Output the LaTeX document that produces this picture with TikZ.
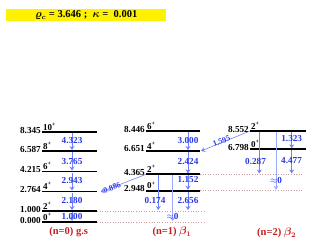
\documentclass[tikz,border=0pt]{standalone}
\usepackage{fontspec}
\setmainfont{Liberation Serif}
\usepackage{amsmath,bm}
\usetikzlibrary{arrows.meta}
\definecolor{arr}{RGB}{110,130,255}
\definecolor{lab}{RGB}{40,55,230}
\definecolor{redl}{RGB}{195,30,30}
\definecolor{dotc}{RGB}{200,160,160}
\begin{document}
\begin{tikzpicture}[x=1pt,y=-1pt,
  lev/.style={line width=1.8pt},
  tr/.style={arr, line width=0.6pt, -{Stealth[length=4pt,width=5pt]}},
  trz/.style={arr!70, line width=0.6pt, -{Stealth[length=4pt,width=5pt]}},
  en/.style={anchor=east, inner sep=0.5pt, font=\fontsize{9.2}{10}\selectfont\bfseries},
  sp/.style={anchor=south west, inner sep=0.5pt, font=\fontsize{9}{10}\selectfont\bfseries},
  tl/.style={lab, inner sep=0.5pt, font=\fontsize{9.2}{10}\selectfont\bfseries},
  dl/.style={dotc, dotted, line width=0.6pt},
  ttl/.style={redl, font=\fontsize{10.5}{12}\selectfont\bfseries\boldmath}
]
\useasboundingbox (0,0) rectangle (312,250);
% title
\node[fill=yellow, minimum width=160pt, minimum height=12pt, inner sep=0pt, anchor=north west,
  font=\fontsize{10.5}{11}\selectfont\bfseries\boldmath] (title) at (6,9)
  {$\varrho_c$ = 3.646 ;\ \ $\kappa$ =\ \ 0.001};

% ---------- ground band ----------
\foreach \n/\y/\e/\s in {g10/132/8.345/10, g8/151/6.587/8, g6/171.5/4.215/6, g4/191.5/2.764/4, g2/211/1.000/2, g0/222/0.000/0}{
  \coordinate (\n L) at (42,\y);
  \coordinate (\n R) at (97,\y);
  \draw[lev] (\n L) -- (\n R);
  \node[en] (\n e) at (41.5,\y-2) {\e};
  \node[sp] (\n s) at (42.5,\y-1) {\s\textsuperscript{+}};
}
% ---------- beta1 band ----------
\foreach \n/\y/\e/\s in {b6/131/8.446/6, b4/151/6.651/4, b2/174.3/4.365/2, b0/190.7/2.948/0}{
  \coordinate (\n L) at (146,\y);
  \coordinate (\n R) at (200,\y);
  \draw[lev] (\n L) -- (\n R);
  \node[en] (\n e) at (145.5,\y-2) {\e};
  \node[sp] (\n s) at (146.5,\y-1) {\s\textsuperscript{+}};
}
% ---------- beta2 band ----------
\foreach \n/\y/\e/\s in {c2/131/8.552/2, c0/149.3/6.798/0}{
  \coordinate (\n L) at (250,\y);
  \coordinate (\n R) at (306,\y);
  \draw[lev] (\n L) -- (\n R);
  \node[en] (\n e) at (249.5,\y-2) {\e};
  \node[sp] (\n s) at (250.5,\y-1) {\s\textsuperscript{+}};
}
% dotted guide lines
\coordinate (d1e) at (205,211);
\coordinate (d0e) at (205,222);
\coordinate (d3e) at (303,174.3);
\coordinate (d4e) at (303,190.7);
\draw[dl] (g2R) -- (d1e);
\draw[dl] (g0R) -- (d0e);
\draw[dl] (b2R) -- (d3e);
\draw[dl] (b0R) -- (d4e);

% ---------- ground band transitions ----------
\foreach \a/\b/\ya/\yb/\v/\yl in {t1/u1/133/150/4.323/141, t2/u2/152/170.5/3.765/161.5, t3/u3/172.5/190.5/2.943/181, t4/u4/192.5/210/2.180/200.5, t5/u5/212/221/1.000/216.5}{
  \coordinate (\a) at (72,\ya);
  \coordinate (\b) at (72,\yb);
  \draw[tr] (\a) -- (\b);
  \node[tl] (\a l) at (72,\yl) {\v};
}
% ---------- beta1 transitions ----------
\foreach \a/\b/\x/\ya/\yb/\v/\xl/\yl in {p1/q1/188/132/150/3.000/188/140, p2/q2/188/152/173.3/2.424/188/162, p3/q3/188/175.3/189.7/1.152/188/180, p4/q4/188/191.7/210/2.656/188/200.5, p5/q5/158.3/175.3/210/0.174/155/200.5}{
  \coordinate (\a) at (\x,\ya);
  \coordinate (\b) at (\x,\yb);
  \draw[tr] (\a) -- (\b);
  \node[tl] (\a l) at (\xl,\yl) {\v};
}
\coordinate (p6) at (172.7,175.3);
\coordinate (q6) at (172.7,221);
\draw[trz] (p6) -- (q6);
\node[tl] (p6l) at (172.5,216) {$\approx$0};
% ---------- beta2 transitions ----------
\foreach \a/\b/\x/\ya/\yb/\v/\xl/\yl in {r1/s1/291.7/132/148.3/1.323/291.7/139, r2/s2/291.7/150.3/173.5/4.477/291.5/161, r3/s3/259.3/132/173.5/0.287/255.5/161}{
  \coordinate (\a) at (\x,\ya);
  \coordinate (\b) at (\x,\yb);
  \draw[tr] (\a) -- (\b);
  \node[tl] (\a l) at (\xl,\yl) {\v};
}
\coordinate (r4) at (276,132);
\coordinate (s4) at (276,189.7);
\draw[trz] (r4) -- (s4);
\node[tl] (r4l) at (276,180.5) {$\approx$0};

% ---------- inter-band transitions ----------
\coordinate (x1) at (100.5,192);
\draw[tr] (b2L) -- (x1);
\node[tl, rotate=21, font=\fontsize{8}{9}\selectfont\bfseries] (x1l) at (112,187.5) {0.886};
\coordinate (x2) at (201,151);
\draw[tr] (c2L) -- (x2);
\node[tl, rotate=22, font=\fontsize{8}{9}\selectfont\bfseries] (x2l) at (221.5,141) {1.595};

% ---------- band titles ----------
\node[ttl] (n0) at (68.7,231.7) {(n=0) g.s};
\node[ttl] (n1) at (172,231.7) {(n=1) $\bm{\beta}_1$};
\node[ttl] (n2) at (276.7,233.3) {(n=2) $\bm{\beta}_2$};
\end{tikzpicture}
\end{document}
